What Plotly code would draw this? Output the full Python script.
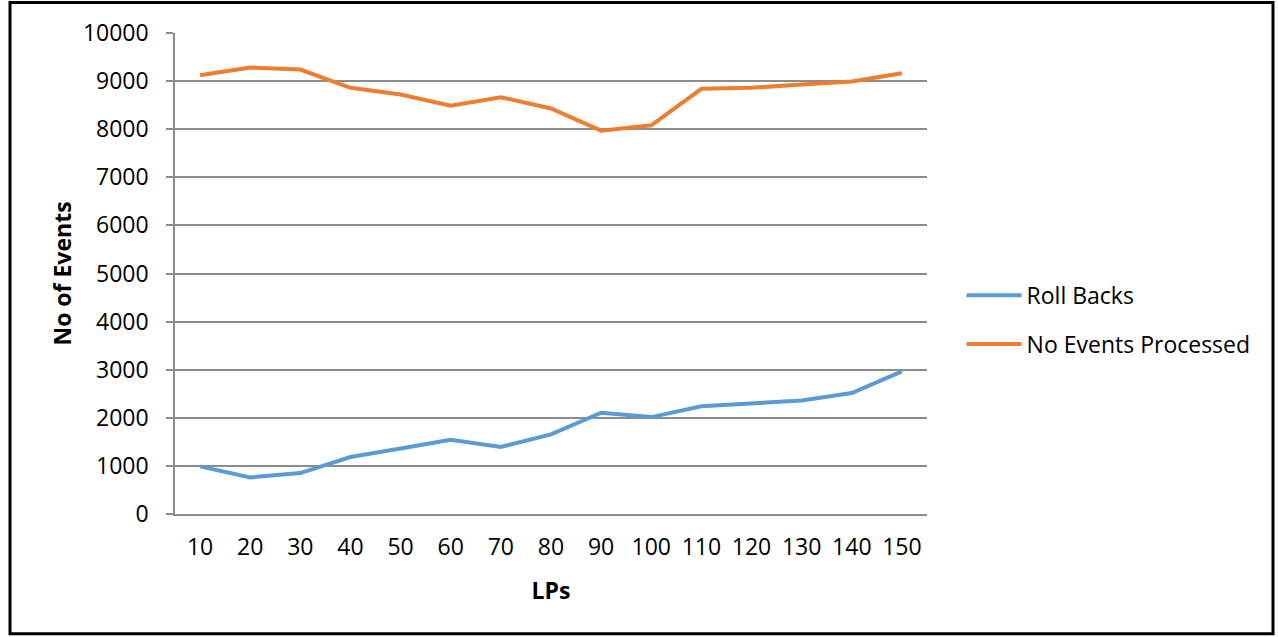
import plotly.graph_objects as go

lps = [10, 20, 30, 40, 50, 60, 70, 80, 90, 100, 110, 120, 130, 140, 150]
roll_backs = [990, 760, 850, 1185, 1360, 1545, 1395, 1655, 2105, 2015, 2240, 2305, 2360, 2515, 2965]
events_processed = [9120, 9280, 9240, 8860, 8720, 8490, 8665, 8430, 7970, 8080, 8840, 8860, 8930, 8990, 9165]
y_ticks = [0, 1000, 2000, 3000, 4000, 5000, 6000, 7000, 8000, 9000, 10000]

FONT = "Open Sans"
FS = 23
x_labels = [str(v) for v in lps]

fig = go.Figure()
fig.add_trace(go.Scatter(x=x_labels, y=roll_backs, mode="lines", name="Roll Backs",
                         line=dict(color="#5B9BD5", width=4), legendgroup="a"))
fig.add_trace(go.Scatter(x=x_labels, y=events_processed, mode="lines", name="No Events Processed",
                         line=dict(color="#ED7D31", width=4), legendgroup="b"))

fig.update_layout(
    width=1278, height=637,
    margin=dict(l=175, r=351, t=33, b=123),
    paper_bgcolor="white", plot_bgcolor="white",
    font=dict(family=FONT, size=FS, color="black"),
    showlegend=True,
    legend=dict(x=1.046, y=0.404, xanchor="left", yanchor="middle",
                traceorder="grouped", tracegroupgap=16,
                font=dict(family=FONT, size=FS, color="black"),
                itemwidth=55, bgcolor="rgba(0,0,0,0)"),
    xaxis=dict(type="category", range=[-0.5, 14.5], showgrid=False, showline=True,
               linecolor="#8c8c8c", linewidth=1.5,
               ticks="", tickfont=dict(family=FONT, size=FS), ticklabelstandoff=12,
               title=dict(text="<b>LPs</b>", font=dict(family=FONT, size=FS), standoff=22),
               zeroline=False),
    yaxis=dict(range=[0, 10000], tickvals=y_ticks, tickformat="d", showgrid=True,
               gridcolor="#8c8c8c", gridwidth=1.5,
               showline=True, linecolor="#8c8c8c", linewidth=1.5, ticks="outside", ticklen=7,
               tickcolor="#8c8c8c", tickwidth=1.5, tickfont=dict(family=FONT, size=FS),
               ticklabelstandoff=13, zeroline=False,
               title=dict(text="<b>No of Events</b>", font=dict(family=FONT, size=FS), standoff=5)),
)

# outer chart border (page pixels: left 10, right 1273, top 3, bottom 634)
fig.add_shape(type="rect", xref="paper", yref="paper",
              x0=(10 - 175) / 752, x1=(1273 - 175) / 752,
              y0=(514.3 - 634) / 480.8, y1=(514.3 - 3) / 480.8,
              line=dict(color="black", width=3), fillcolor="rgba(0,0,0,0)", layer="above")

fig.write_html("out.html", config={"displayModeBar": False},
               post_script="document.body.style.margin='0px';document.documentElement.style.overflow='hidden';")
